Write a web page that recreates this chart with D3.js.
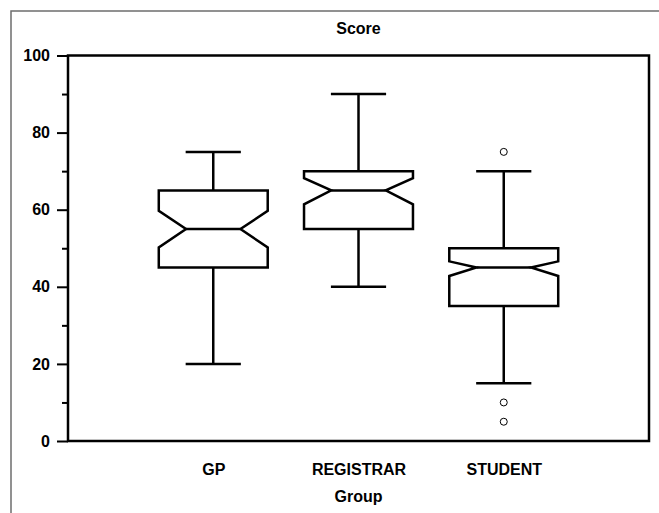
<!DOCTYPE html>
<html><head><meta charset="utf-8">
<script src="https://cdn.jsdelivr.net/npm/d3@7"></script>
<style>body{margin:0;background:#fff}svg{display:block}text{font-family:"Liberation Sans",Arial,sans-serif;font-weight:bold}</style>
</head><body>
<script>
const categories = ["GP", "REGISTRAR", "STUDENT"];
const whiskerLow = [20, 40, 15];
const q1 = [45, 55, 35];
const median = [55, 65, 45];
const q3 = [65, 70, 50];
const whiskerHigh = [75, 90, 70];
const notchLow = [50.2, 61.4, 42.8];
const notchHigh = [59.7, 68.2, 46.6];
const outliers = [[], [], [75, 10, 5]];
const yTicks = [0, 20, 40, 60, 80, 100];
const yMinorTicks = [10, 30, 50, 70, 90];
const title = "Score";
const xTitle = "Group";

const W = 659, H = 513, FS = 16;
const svg = d3.select("body").append("svg").attr("width", W).attr("height", H);

// outer frame
svg.append("path").attr("d", `M11,${H} L11,11 L${W},11`).attr("fill", "none")
  .attr("stroke", "#6e6e6e").attr("stroke-width", 1.5);

const L = 68, R = 649, T = 55.5, B = 441;
const x = d3.scaleLinear().domain([0, categories.length + 1]).range([L, R]);
const y = d3.scaleLinear().domain([0, 100]).range([B, T]);

// y axis ticks
const yAxis = d3.axisLeft(y).tickValues(yTicks).tickSize(11).tickPadding(7).tickSizeOuter(0);
const gy = svg.append("g").attr("transform", `translate(${L},0)`).call(yAxis);
gy.select(".domain").remove();
gy.selectAll("line").attr("stroke", "#000").attr("stroke-width", 2);
gy.selectAll("text").attr("font-size", FS).attr("fill", "#000").style("font-family", "'Liberation Sans',Arial,sans-serif").style("font-weight", "bold");
const yAxisMinor = d3.axisLeft(y).tickValues(yMinorTicks).tickSize(6).tickFormat("");
const gym = svg.append("g").attr("transform", `translate(${L},0)`).call(yAxisMinor);
gym.select(".domain").remove();
gym.selectAll("line").attr("stroke", "#000").attr("stroke-width", 2);

// plot frame
svg.append("rect").attr("x", L).attr("y", T).attr("width", R - L).attr("height", B - T)
  .attr("fill", "none").attr("stroke", "#000").attr("stroke-width", 2.5);

// title
svg.append("text").attr("x", (L + R) / 2).attr("y", 34).attr("text-anchor", "middle")
  .attr("font-size", FS).text(title);

// x labels
const xAxis = d3.axisBottom(x).tickValues(categories.map((c, i) => i + 1))
  .tickFormat((d) => categories[d - 1]).tickSize(0).tickPadding(22.5);
const gx = svg.append("g").attr("transform", `translate(0,${B})`).call(xAxis);
gx.select(".domain").remove();
gx.selectAll("text").attr("font-size", FS).attr("fill", "#000").style("font-family", "'Liberation Sans',Arial,sans-serif").style("font-weight", "bold");

svg.append("text").attr("x", x(2)).attr("y", 502).attr("text-anchor", "middle")
  .attr("font-size", FS).text(xTitle);

// boxes
const hw = 0.375, nw = 0.1875, cw = 0.19;
categories.forEach((c, i) => {
  const cx = i + 1;
  const g = svg.append("g").attr("fill", "none").attr("stroke", "#000").attr("stroke-width", 2.5);
  // whiskers
  g.append("line").attr("x1", x(cx)).attr("x2", x(cx)).attr("y1", y(q3[i])).attr("y2", y(whiskerHigh[i]));
  g.append("line").attr("x1", x(cx)).attr("x2", x(cx)).attr("y1", y(q1[i])).attr("y2", y(whiskerLow[i]));
  g.append("line").attr("x1", x(cx - cw)).attr("x2", x(cx + cw)).attr("y1", y(whiskerHigh[i])).attr("y2", y(whiskerHigh[i]));
  g.append("line").attr("x1", x(cx - cw)).attr("x2", x(cx + cw)).attr("y1", y(whiskerLow[i])).attr("y2", y(whiskerLow[i]));
  // notched box
  const pts = [
    [cx - hw, q3[i]], [cx + hw, q3[i]], [cx + hw, notchHigh[i]], [cx + hw - nw, median[i]],
    [cx + hw, notchLow[i]], [cx + hw, q1[i]], [cx - hw, q1[i]], [cx - hw, notchLow[i]],
    [cx - hw + nw, median[i]], [cx - hw, notchHigh[i]]
  ];
  g.append("path").attr("d", d3.line().x(d => x(d[0])).y(d => y(d[1]))(pts) + "Z").attr("stroke-linejoin", "miter");
  g.append("line").attr("x1", x(cx - hw + nw)).attr("x2", x(cx + hw - nw)).attr("y1", y(median[i])).attr("y2", y(median[i]));
  // outliers
  svg.selectAll(null).data(outliers[i]).enter().append("circle")
    .attr("cx", x(cx)).attr("cy", d => y(d)).attr("r", 3.5)
    .attr("fill", "#fff").attr("stroke", "#000").attr("stroke-width", 1);
});
</script>
</body></html>
